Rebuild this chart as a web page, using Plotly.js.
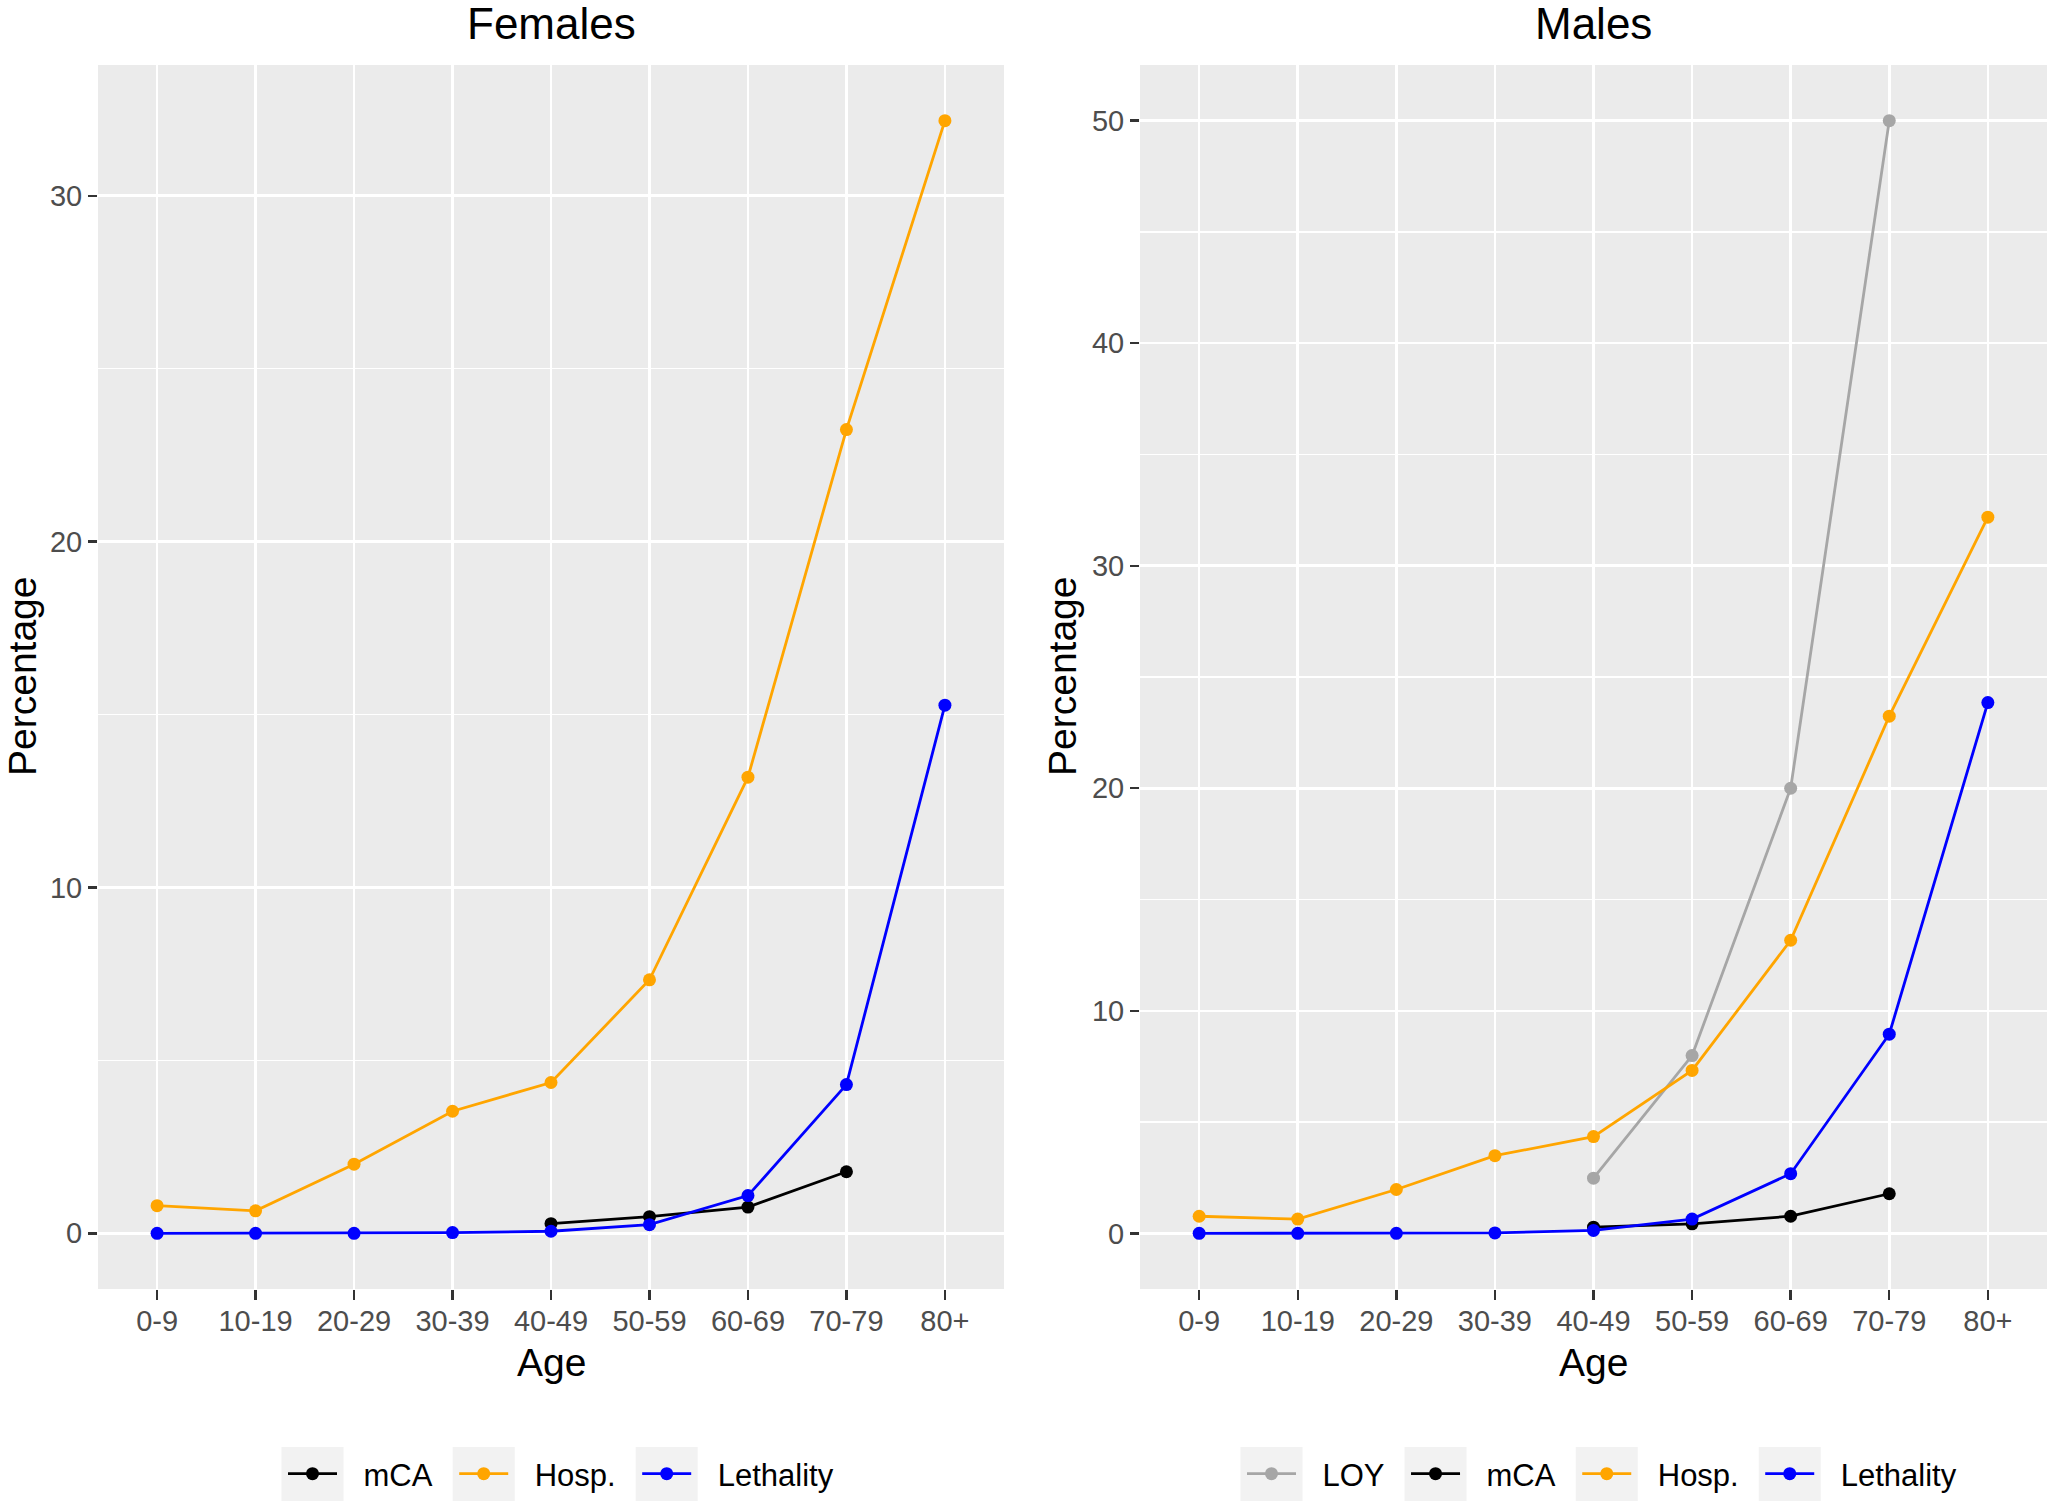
<!DOCTYPE html>
<html>
<head>
<meta charset="utf-8">
<script src="https://cdn.plot.ly/plotly-3.0.1.min.js"></script>
<style>html,body{margin:0;padding:0;background:#fff;}#chart{width:2050px;height:1508px;}</style>
</head>
<body>
<div id="chart"></div>
<script>
// ---- data ----
const ages = ['0-9','10-19','20-29','30-39','40-49','50-59','60-69','70-79','80+'];
const femaleMCA       = [null, null, null, null, 0.28, 0.48, 0.76, 1.78, null];
const femaleHosp      = [0.80, 0.65, 2.00, 3.53, 4.36, 7.33, 13.19, 23.24, 32.17];
const femaleLethality = [0, 0, 0, 0.02, 0.06, 0.25, 1.09, 4.30, 15.27];
const maleLOY         = [null, null, null, null, 2.48, 7.99, 20.0, 50.0, null];
const maleMCA         = [null, null, null, null, 0.28, 0.43, 0.77, 1.78, null];
const maleHosp        = [0.77, 0.64, 1.97, 3.49, 4.35, 7.32, 13.17, 23.24, 32.18];
const maleLethality   = [0, 0, 0, 0.02, 0.13, 0.64, 2.68, 8.95, 23.85];
const panelTitles = ['Females', 'Males'];
const xTitle = 'Age';
const yTitle = 'Percentage';

// ---- styling ----
const W = 2050, H = 1508;
const FONT = 'Liberation Sans, Arial, sans-serif';
const colors = {LOY: '#A6A6A6', mCA: '#000000', 'Hosp.': '#FFA500', Lethality: '#0000FF'};

function line(name, y, xa, ya, legend) {
  return {
    type: 'scatter', mode: 'lines+markers', name: name,
    x: ages, y: y, xaxis: xa, yaxis: ya, legend: legend,
    connectgaps: false,
    line: {color: colors[name], width: 2.8},
    marker: {color: colors[name], size: 13},
    hoverinfo: 'x+y+name'
  };
}

const traces = [
  line('mCA', femaleMCA, 'x', 'y', 'legend'),
  line('Hosp.', femaleHosp, 'x', 'y', 'legend'),
  line('Lethality', femaleLethality, 'x', 'y', 'legend'),
  line('LOY', maleLOY, 'x2', 'y2', 'legend2'),
  line('mCA', maleMCA, 'x2', 'y2', 'legend2'),
  line('Hosp.', maleHosp, 'x2', 'y2', 'legend2'),
  line('Lethality', maleLethality, 'x2', 'y2', 'legend2')
];

const px = v => v / W;
const py = v => 1 - v / H;

function xAxis(domain) {
  return {
    domain: domain, type: 'category', range: [-0.6, 8.6],
    showgrid: true, gridcolor: '#FFFFFF', gridwidth: 2.6,
    zeroline: false, showline: false,
    ticks: 'outside', ticklen: 10, tickwidth: 2.4, tickcolor: '#333333',
    ticklabelstandoff: -4,
    tickfont: {family: FONT, size: 29, color: '#4D4D4D'},
    fixedrange: true
  };
}
function yAxis(range, domainY, anchor) {
  return {
    domain: domainY, anchor: anchor, range: range,
    tick0: 0, dtick: 10,
    showgrid: true, gridcolor: '#FFFFFF', gridwidth: 2.6,
    minor: {dtick: 5, tick0: 0, showgrid: true, gridcolor: '#FFFFFF', gridwidth: 1.3, ticks: ''},
    zeroline: false, showline: false,
    ticks: 'outside', ticklen: 9, tickwidth: 2.4, tickcolor: '#333333',
    tickfont: {family: FONT, size: 29, color: '#4D4D4D'},
    fixedrange: true
  };
}

const domY = [py(1289), py(65)];
const domX1 = [px(98), px(1004)];
const domX2 = [px(1140), px(2047)];

const legendBase = {orientation: 'h', xanchor: 'center', y: py(1474), yanchor: 'middle',
  font: {family: FONT, size: 31, color: '#000000'}, itemwidth: 87,
  bgcolor: 'rgba(0,0,0,0)', traceorder: 'normal'};

const layout = {
  width: W, height: H,
  margin: {l: 0, r: 0, t: 0, b: 0},
  paper_bgcolor: '#FFFFFF', plot_bgcolor: '#EBEBEB',
  font: {family: FONT, color: '#000000'},
  xaxis: Object.assign(xAxis(domX1), {anchor: 'y'}),
  yaxis: yAxis([-1.61, 33.78], domY, 'x'),
  xaxis2: Object.assign(xAxis(domX2), {anchor: 'y2'}),
  yaxis2: yAxis([-2.5, 52.5], domY, 'x2'),
  showlegend: true,
  legend: Object.assign({}, legendBase, {x: px(553)}),
  legend2: Object.assign({}, legendBase, {x: px(1594)}),
  annotations: [
    {text: panelTitles[0], x: (domX1[0]+domX1[1])/2, y: py(23), xref: 'paper', yref: 'paper',
     xanchor: 'center', yanchor: 'middle', showarrow: false, font: {family: FONT, size: 44, color: '#000'}},
    {text: panelTitles[1], x: (domX2[0]+domX2[1])/2, y: py(23), xref: 'paper', yref: 'paper',
     xanchor: 'center', yanchor: 'middle', showarrow: false, font: {family: FONT, size: 44, color: '#000'}},
    {text: xTitle, x: (domX1[0]+domX1[1])/2, y: py(1362), xref: 'paper', yref: 'paper',
     xanchor: 'center', yanchor: 'middle', showarrow: false, font: {family: FONT, size: 39, color: '#000'}},
    {text: xTitle, x: (domX2[0]+domX2[1])/2, y: py(1362), xref: 'paper', yref: 'paper',
     xanchor: 'center', yanchor: 'middle', showarrow: false, font: {family: FONT, size: 39, color: '#000'}},
    {text: yTitle, x: px(23), y: (domY[0]+domY[1])/2, xref: 'paper', yref: 'paper', textangle: -90,
     xanchor: 'center', yanchor: 'middle', showarrow: false, font: {family: FONT, size: 39, color: '#000'}},
    {text: yTitle, x: px(1063), y: (domY[0]+domY[1])/2, xref: 'paper', yref: 'paper', textangle: -90,
     xanchor: 'center', yanchor: 'middle', showarrow: false, font: {family: FONT, size: 39, color: '#000'}}
  ]
};

// ggplot-like legend keys: grey key box, 49px key line, 51px from key centre to label
function styleItem(item) {
  const NS = 'http://www.w3.org/2000/svg';
  const textEl = item.querySelector('text');
  const layers = item.querySelector('g.layers');
  if (!textEl || !layers) return;
  if (layers.querySelector('rect.ggkey')) return;
  let cx = null, cy = 0;
  const pts = layers.querySelector('g.legendpoints');
  if (pts) {
    try {
      const pb = pts.getBBox();
      if (pb.width > 0) { cx = pb.x + pb.width / 2; cy = pb.y + pb.height / 2; }
    } catch (e) {}
  }
  layers.querySelectorAll('g.legendlines path').forEach(p => {
    const m = /M\s*([-\d.]+)\s*,\s*([-\d.]+)\s*h\s*([-\d.]+)/.exec(p.getAttribute('d') || '');
    if (m) {
      const c = (cx !== null) ? cx : parseFloat(m[1]) + parseFloat(m[3]) / 2;
      if (cx === null) cx = c;
      p.setAttribute('d', 'M' + (c - 24.5) + ',' + m[2] + 'h49');
    }
  });
  if (cx === null) cx = 20;
  const rect = document.createElementNS(NS, 'rect');
  rect.setAttribute('class', 'ggkey');
  rect.setAttribute('x', cx - 31); rect.setAttribute('y', cy - 30.5);
  rect.setAttribute('width', 62); rect.setAttribute('height', 61);
  rect.setAttribute('fill', '#F2F2F2');
  layers.insertBefore(rect, layers.firstChild);
  const tr = textEl.getBoundingClientRect();
  const lr = rect.getBoundingClientRect();
  const dx = (tr.left - 51) - (lr.left + lr.right) / 2;
  const old = layers.getAttribute('transform') || '';
  layers.setAttribute('transform', 'translate(' + dx + ',0) ' + old);
}
function styleLegendKeys(gd) {
  gd.querySelectorAll('g.traces').forEach(item => {
    try { styleItem(item); } catch (e) { console.log('legend style error', e); }
  });
}

Plotly.newPlot('chart', traces, layout, {displayModeBar: false, staticPlot: true})
  .then(gd => {
    styleLegendKeys(gd);
    gd.on('plotly_afterplot', () => styleLegendKeys(gd));
    setTimeout(() => styleLegendKeys(gd), 30);
  });
</script>
</body>
</html>
